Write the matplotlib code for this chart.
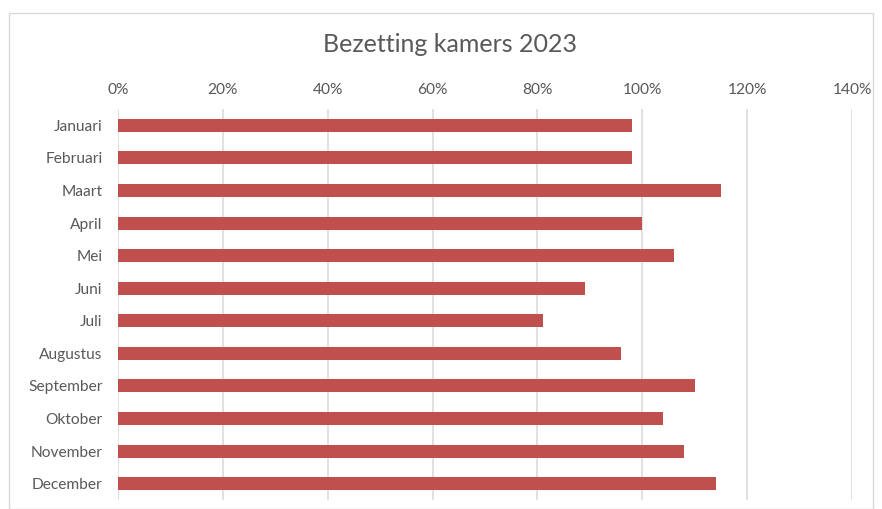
import matplotlib
matplotlib.use("Agg")
import matplotlib.pyplot as plt
from matplotlib.patches import Rectangle
from matplotlib.ticker import FuncFormatter

months = ["Januari", "Februari", "Maart", "April", "Mei", "Juni", "Juli",
          "Augustus", "September", "Oktober", "November", "December"]
values = [98, 98, 115, 100, 106, 89, 81, 96, 110, 104, 108, 114]
xticks = [0, 20, 40, 60, 80, 100, 120, 140]

plt.rcParams['font.family'] = ['Lato', 'DejaVu Sans']
W, H = 882, 509
fig = plt.figure(figsize=(W / 100, H / 100), dpi=100)
fig.patches.append(Rectangle((9 / W, 0 / H), (873 - 9) / W, (H - 13) / H,
                             transform=fig.transFigure, fill=False,
                             edgecolor="#d9d9d9", linewidth=1))
ax = fig.add_axes([118 / W, 1 - 500 / H, (852 - 118) / W, (500 - 109) / H])
ypos = list(range(len(months)))
ax.barh(ypos, values, height=0.4, color="#c0504d", zorder=3)
ax.set_ylim(len(months) - 0.5, -0.5)
ax.set_xlim(0, 140)
ax.set_yticks(ypos)
ax.set_yticklabels(months)
ax.set_xticks(xticks)
ax.xaxis.set_major_formatter(FuncFormatter(lambda v, p: f"{int(v)}%"))
ax.xaxis.tick_top()
ax.tick_params(axis="both", length=0, labelsize=11.2, colors="#595959")
ax.tick_params(axis="x", pad=9)
ax.tick_params(axis="y", pad=11)
for s in ax.spines.values():
    s.set_visible(False)
ax.grid(axis="x", color="#d9d9d9", linewidth=1.1, zorder=0)
ax.set_axisbelow(True)
fig.text(450 / W, 1 - 45 / H, "Bezetting kamers 2023", ha="center", va="center",
         fontsize=18, color="#595959")
fig.savefig("out.png", dpi=100)
